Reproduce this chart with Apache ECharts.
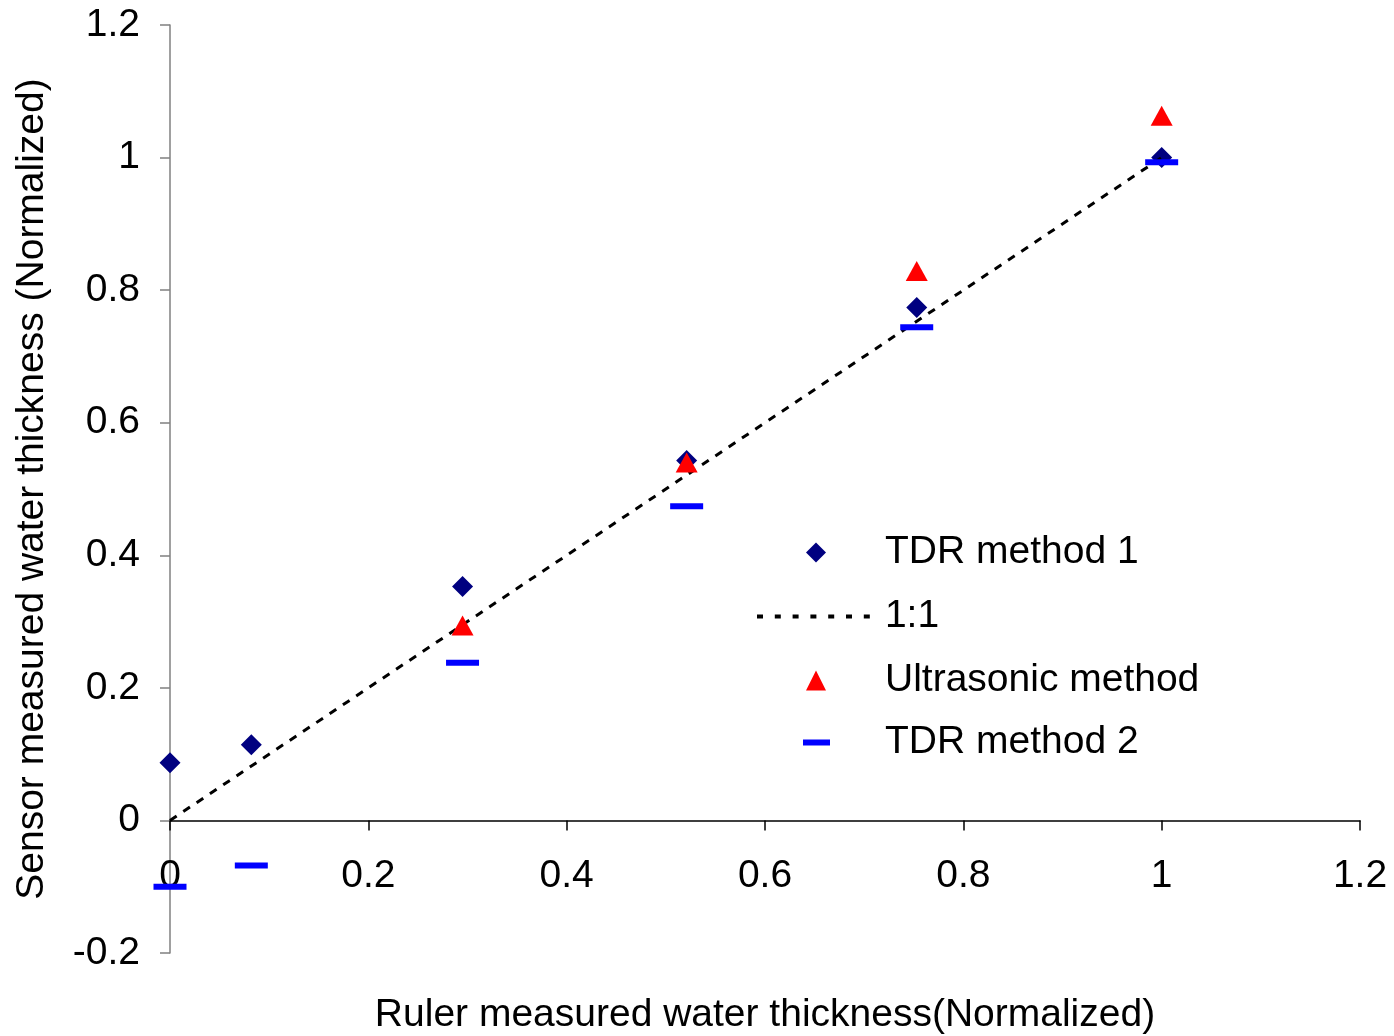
<!DOCTYPE html>
<html>
<head>
<meta charset="utf-8">
<script src="https://cdn.jsdelivr.net/npm/echarts@6/dist/echarts.min.js"></script>
<style>html,body{margin:0;padding:0;background:#fff;}#c{width:1394px;height:1036px;}</style>
</head>
<body>
<div id="c"></div>
<script>
// Data
const rulerX = [0, 0.082, 0.295, 0.521, 0.753, 1.0];
const tdr1 = [0.087, 0.114, 0.353, 0.543, 0.774, 1.0];
const ultraX = [0.295, 0.521, 0.753, 1.0];
const ultrasonic = [0.294, 0.540, 0.829, 1.063];
const tdr2 = [-0.100, -0.068, 0.238, 0.474, 0.744, 0.993];
const oneToOneX = [0, 1];
const oneToOneY = [0, 1];
const xTicks = { min: 0, max: 1.2, interval: 0.2 };
const yTicks = { min: -0.2, max: 1.2, interval: 0.2 };

const FONT = '"Liberation Sans", Arial, sans-serif';
const FS = 39;
const zip = (xs, ys) => xs.map((x, i) => [x, ys[i]]);

const chart = echarts.init(document.getElementById('c'), null, { renderer: 'canvas' });

const dashPath = 'path://' + [0, 1, 2, 3, 4, 5, 6].map(k => {
  const x = (k * 17.8).toFixed(1);
  return 'M' + x + ',0h6v4h-6Z';
}).join('');

const legendBase = {
  orient: 'vertical',
  padding: 0,
  itemWidth: 20,
  itemHeight: 20,
  textStyle: { fontFamily: FONT, fontSize: FS, color: '#000', padding: [0, 0, 0, 54] },
  selectedMode: false,
  symbolKeepAspect: true
};

chart.setOption({
  backgroundColor: '#fff',
  animation: false,
  grid: { left: 170, right: 34, top: 25, bottom: 83, containLabel: false, outerBoundsMode: 'none' },
  xAxis: {
    type: 'value',
    min: xTicks.min, max: xTicks.max, interval: xTicks.interval,
    name: 'Ruler measured water thickness(Normalized)',
    nameLocation: 'middle',
    nameGap: 43,
    nameTextStyle: { fontFamily: FONT, fontSize: FS, color: '#000' },
    axisLine: { onZero: true, lineStyle: { color: '#000', width: 1.5 } },
    axisTick: { show: true, length: 10, lineStyle: { color: '#000', width: 1.5 } },
    axisLabel: { fontFamily: FONT, fontSize: FS, color: '#000', margin: -96 },
    splitLine: { show: false }
  },
  yAxis: {
    type: 'value',
    min: yTicks.min, max: yTicks.max, interval: yTicks.interval,
    name: 'Sensor measured water thickness (Normalized)',
    nameLocation: 'middle',
    nameGap: 118,
    nameTextStyle: { fontFamily: FONT, fontSize: FS, color: '#000' },
    axisLine: { onZero: false, lineStyle: { color: '#808080', width: 1.5 } },
    axisTick: { show: true, length: 10, lineStyle: { color: '#808080', width: 1.5 } },
    axisLabel: { fontFamily: FONT, fontSize: FS, color: '#000', margin: 30 },
    splitLine: { show: false }
  },
  legend: [
    Object.assign({}, legendBase, {
      left: 806, top: 533,
      data: [{ name: 'TDR method 1', icon: 'path://M10,0L20,10L10,20L0,10Z', itemStyle: { color: '#000080' } }]
    }),
    Object.assign({}, legendBase, {
      left: 757, top: 597, itemWidth: 113, itemHeight: 4,
      textStyle: { fontFamily: FONT, fontSize: FS, color: '#000', padding: [0, 0, 0, 10] },
      data: [{ name: '1:1', icon: dashPath, itemStyle: { color: '#000' } }]
    }),
    Object.assign({}, legendBase, {
      left: 806, top: 661,
      data: [{ name: 'Ultrasonic method', icon: 'path://M10,0L20,20L0,20Z', itemStyle: { color: '#FF0000' } }]
    }),
    Object.assign({}, legendBase, {
      left: 803, top: 723, itemWidth: 27, itemHeight: 6,
      textStyle: { fontFamily: FONT, fontSize: FS, color: '#000', padding: [0, 0, 0, 50] },
      data: [{ name: 'TDR method 2', icon: 'path://M0,0H27V6H0Z', itemStyle: { color: '#0000FF' } }]
    })
  ],
  series: [
    {
      name: 'TDR method 1',
      type: 'scatter',
      symbol: 'diamond',
      symbolSize: 21,
      itemStyle: { color: '#000080', opacity: 1 },
      data: zip(rulerX, tdr1),
      z: 3
    },
    {
      name: '1:1',
      type: 'line',
      symbol: 'none',
      lineStyle: { color: '#000', width: 3, type: [8, 8] },
      itemStyle: { color: '#000' },
      data: zip(oneToOneX, oneToOneY),
      z: 4
    },
    {
      name: 'Ultrasonic method',
      type: 'scatter',
      symbol: 'triangle',
      symbolSize: [22, 20],
      itemStyle: { color: '#FF0000', opacity: 1 },
      data: zip(ultraX, ultrasonic),
      z: 5
    },
    {
      name: 'TDR method 2',
      type: 'scatter',
      symbol: 'rect',
      symbolSize: [33, 6],
      itemStyle: { color: '#0000FF', opacity: 1 },
      data: zip(rulerX, tdr2),
      z: 6
    }
  ]
});
</script>
</body>
</html>
